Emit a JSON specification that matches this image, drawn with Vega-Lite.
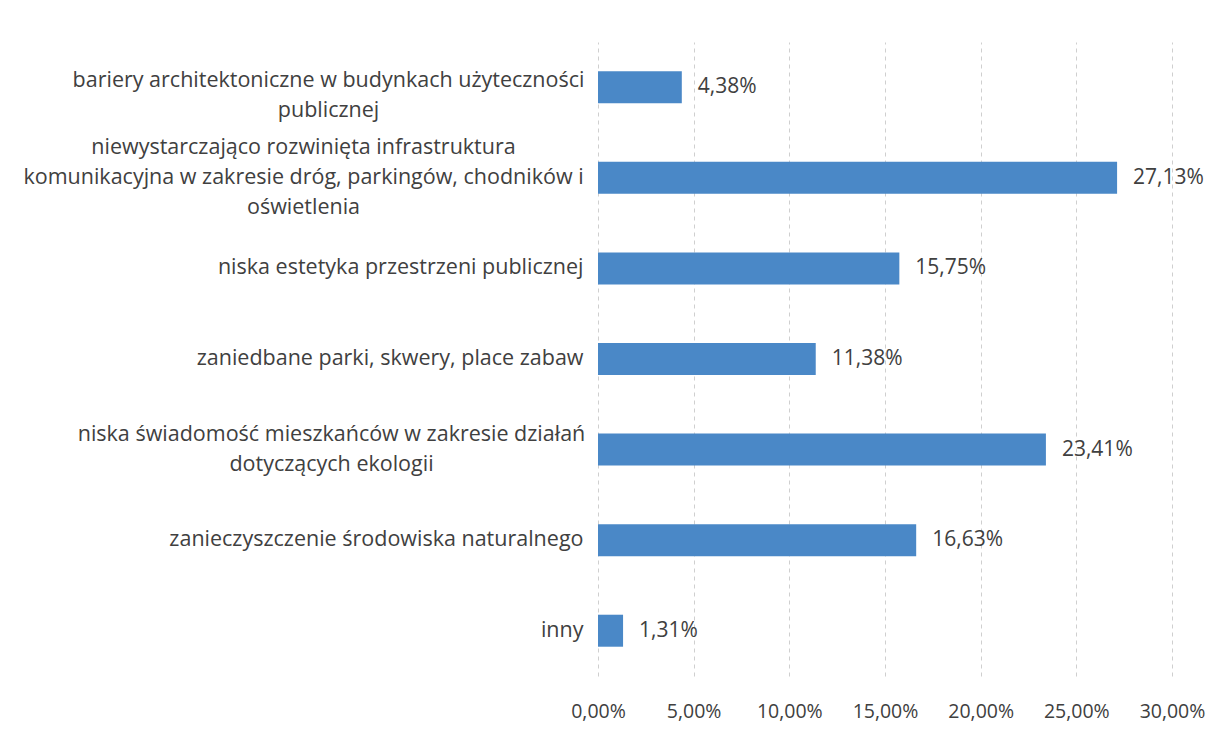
{
  "$schema": "https://vega.github.io/schema/vega-lite/v6.json",
  "autosize": {"type": "none"},
  "width": 574,
  "height": 634,
  "padding": {"left": 598, "top": 42, "right": 55, "bottom": 55},
  "background": "white",
  "config": {
    "locale": {"number": {"decimal": ",", "thousands": " ", "grouping": [3], "currency": ["", " zł"]}},
    "view": {"stroke": null},
    "font": "Open Sans"
  },
  "data": {
    "values": [
      {"kategoria": "bariery architektoniczne w budynkach użyteczności\npublicznej", "udzial": 0.0438},
      {"kategoria": "niewystarczająco rozwinięta infrastruktura\nkomunikacyjna w zakresie dróg, parkingów, chodników i\noświetlenia", "udzial": 0.2713},
      {"kategoria": "niska estetyka przestrzeni publicznej", "udzial": 0.1575},
      {"kategoria": "zaniedbane parki, skwery, place zabaw", "udzial": 0.1138},
      {"kategoria": "niska świadomość mieszkańców w zakresie działań\ndotyczących ekologii", "udzial": 0.2341},
      {"kategoria": "zanieczyszczenie środowiska naturalnego", "udzial": 0.1663},
      {"kategoria": "inny", "udzial": 0.0131}
    ]
  },
  "encoding": {
    "y": {
      "field": "kategoria",
      "type": "nominal",
      "sort": null,
      "title": null,
      "axis": {
        "labelExpr": "split(datum.label, '\\n')",
        "labelFontSize": 21.5,
        "labelLineHeight": 30,
        "labelColor": "#404040",
        "labelLimit": 700,
        "labelAlign": {
          "condition": {"test": "indexof(datum.label, '\\n') >= 0", "value": "center"},
          "value": "right"
        },
        "labelPadding": {
          "condition": [
            {"test": "indexof(datum.label, 'niewystarczaj') >= 0", "value": 295},
            {"test": "indexof(datum.label, 'bariery') >= 0", "value": 270},
            {"test": "indexof(datum.label, 'ekologii') >= 0", "value": 267}
          ],
          "value": 15
        },
        "labelOffset": {
          "condition": [
            {"test": "indexof(datum.label, 'niewystarczaj') >= 0", "value": -30},
            {"test": "indexof(datum.label, 'bariery') >= 0", "value": -6},
            {"test": "indexof(datum.label, 'ekologii') >= 0", "value": -15}
          ],
          "value": 0
        },
        "domain": false,
        "ticks": false,
        "grid": false
      }
    },
    "x": {
      "field": "udzial",
      "type": "quantitative",
      "scale": {"domain": [0, 0.3], "nice": false},
      "title": null,
      "axis": {
        "format": ".2%",
        "values": [0, 0.05, 0.1, 0.15, 0.2, 0.25, 0.3],
        "labelFontSize": 19.5,
        "labelColor": "#404040",
        "labelPadding": 26,
        "labelOverlap": false,
        "labelFlush": false,
        "labelBound": false,
        "domain": false,
        "ticks": false,
        "grid": true,
        "gridColor": "#cfcfcf",
        "gridDash": [4, 4],
        "gridWidth": 1
      }
    }
  },
  "layer": [
    {"mark": {"type": "bar", "size": 32, "color": "#4a88c7"}},
    {
      "mark": {"type": "text", "align": "left", "dx": 16, "fontSize": 21, "color": "#404040"},
      "encoding": {"text": {"field": "udzial", "type": "quantitative", "format": ".2%"}}
    }
  ]
}
